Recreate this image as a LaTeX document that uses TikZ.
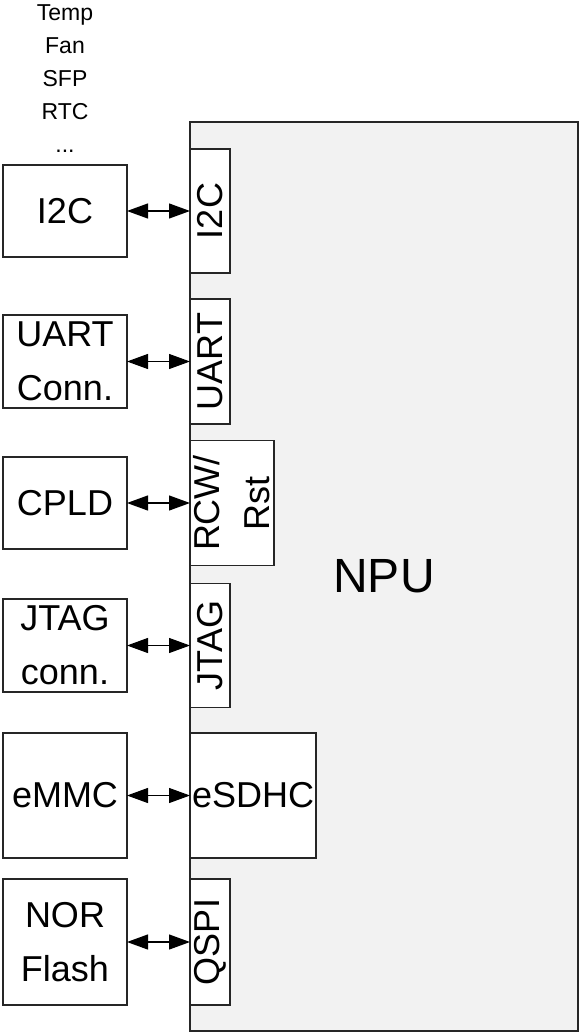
\documentclass[tikz,border=0pt]{standalone}
\usepackage{fontspec}
\setmainfont{Liberation Sans}
\usetikzlibrary{arrows.meta, positioning}

\begin{document}
\begin{tikzpicture}[
  x=0.5pt, y=-0.5pt,
  >={Triangle[length=10.5pt, width=7.5pt]},
  line width=0.6pt,
  box/.style={rectangle, draw=black!85, fill=white, minimum width=62pt, minimum height=46pt, inner sep=1pt, outer sep=0pt, font=\fontsize{18}{27}\selectfont, align=center},
  port/.style={rectangle, draw=black!85, fill=white, rotate=90, minimum width=62pt, minimum height=20pt, inner sep=1pt, outer sep=0pt, font=\fontsize{18}{25}\selectfont, align=center},
  npubox/.style={rectangle, draw=black!85, fill=gray!10, minimum width=194pt, minimum height=454.5pt, font=\fontsize{24}{28}\selectfont},
  devs/.style={inner sep=0pt, font=\fontsize{11.5}{16.5}\selectfont, align=center},
]
  \useasboundingbox (0,0) rectangle (580,1032);

  \node[npubox] (npu) at (384,576.5) {NPU};

  % devices on the left
  \node[box] (i2c) at (65,211) {I2C};
  \node[box, below=29pt of i2c, minimum height=46.5pt] (uart) {UART\\Conn.};
  \node[box, below=24.5pt of uart] (cpld) {CPLD};
  \node[box, below=25pt of cpld, minimum height=46.5pt] (jtag) {JTAG\\conn.};
  \node[box, below=20.5pt of jtag, minimum height=62.5pt] (emmc) {eMMC};
  \node[box, below=10.5pt of emmc, minimum height=63pt] (nor) {NOR\\Flash};
  \node[devs, above=6pt of i2c] (i2cdevs) {Temp\\Fan\\SFP\\RTC\\...};

  % NPU interfaces
  \node[port, right=31.5pt of i2c, anchor=north] (pi2c) {I2C};
  \node[port, right=31.5pt of uart, anchor=north, minimum width=62.5pt] (puart) {UART};
  \node[port, right=31.5pt of cpld, anchor=north, minimum width=62.5pt, minimum height=42pt] (prcw) {RCW/\\Rst};
  \node[port, right=31.5pt of jtag, anchor=north] (pjtag) {JTAG};
  \node[box, right=31.5pt of emmc, minimum width=62.5pt, minimum height=62.5pt] (pesdhc) {eSDHC};
  \node[port, right=31.5pt of nor, anchor=north, minimum width=63pt] (pqspi) {QSPI};

  \draw[<->] (i2c) -- (pi2c);
  \draw[<->] (uart) -- (puart);
  \draw[<->] (cpld) -- (prcw);
  \draw[<->] (jtag) -- (pjtag);
  \draw[<->] (emmc) -- (pesdhc);
  \draw[<->] (nor) -- (pqspi);
\end{tikzpicture}
\end{document}
